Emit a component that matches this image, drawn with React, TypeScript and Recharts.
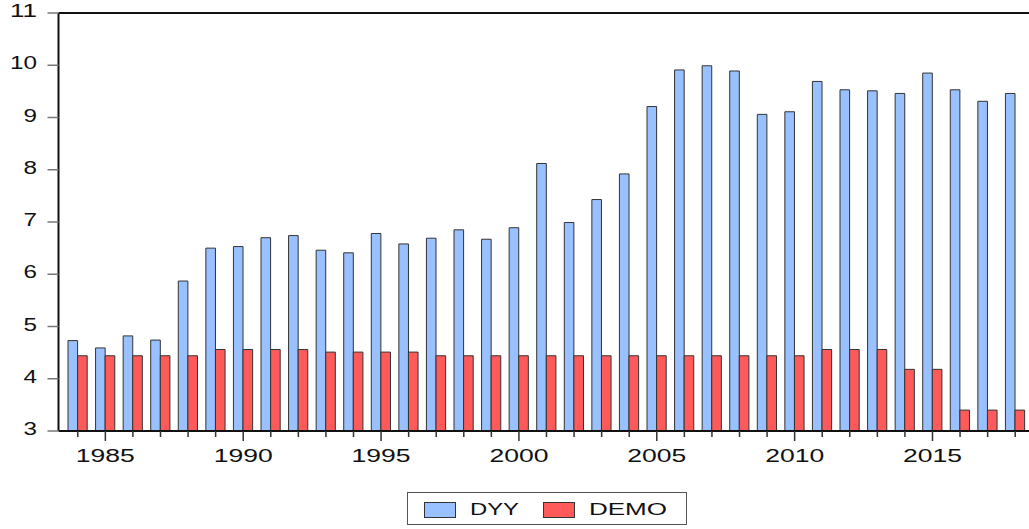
import { Bar, BarChart, Legend, ReferenceLine, XAxis, YAxis } from 'recharts';

const years = [
  1984, 1985, 1986, 1987, 1988, 1989, 1990, 1991, 1992, 1993, 1994, 1995,
  1996, 1997, 1998, 1999, 2000, 2001, 2002, 2003, 2004, 2005, 2006, 2007,
  2008, 2009, 2010, 2011, 2012, 2013, 2014, 2015, 2016, 2017, 2018,
];

const dyy = [
  4.73, 4.59, 4.82, 4.74, 5.87, 6.5, 6.53, 6.7, 6.74, 6.46, 6.41, 6.78,
  6.58, 6.69, 6.85, 6.67, 6.89, 8.12, 6.99, 7.43, 7.92, 9.21, 9.91, 9.99,
  9.89, 9.06, 9.11, 9.69, 9.53, 9.51, 9.46, 9.85, 9.53, 9.31, 9.46,
];

const demo = [
  4.44, 4.44, 4.44, 4.44, 4.44, 4.56, 4.56, 4.56, 4.56, 4.51, 4.51, 4.51,
  4.51, 4.44, 4.44, 4.44, 4.44, 4.44, 4.44, 4.44, 4.44, 4.44, 4.44, 4.44,
  4.44, 4.44, 4.44, 4.56, 4.56, 4.56, 4.18, 4.18, 3.4, 3.4, 3.4,
];

const yTicks = [3, 4, 5, 6, 7, 8, 9, 10, 11];

const BLUE = '#99c0ff';
const RED = '#ff5a5a';
const FONT = '"Liberation Sans", Arial, sans-serif';

const series = [
  { key: 'dyy', name: 'DYY', color: BLUE },
  { key: 'demo', name: 'DEMO', color: RED },
];

const data = years.map((year, i) => ({ year, dyy: dyy[i], demo: demo[i] }));

// the original is stretched sideways, so labels get a fixed textLength
function YTick(props: any) {
  const { x, y, payload } = props;
  const label = String(payload.value);
  return (
    <g>
      <line x1={x - 11} x2={x} y1={y} y2={y} stroke="#777" strokeWidth={1.5} />
      <text
        x={37}
        y={y + 4}
        textAnchor="end"
        fontSize={18}
        fontFamily={FONT}
        fill="#111"
        textLength={label.length * 13.5}
        lengthAdjust="spacingAndGlyphs"
      >
        {label}
      </text>
    </g>
  );
}

function XTick(props: any) {
  const { x, y, payload } = props;
  const major = Number(payload.value) % 5 === 0;
  return (
    <g>
      <line x1={x} x2={x} y1={y} y2={y + (major ? 10 : 6)} stroke="#333" strokeWidth={1.5} />
      {major && (
        <text
          x={x}
          y={y + 31}
          textAnchor="middle"
          fontSize={18}
          fontFamily={FONT}
          fill="#111"
          textLength={59}
          lengthAdjust="spacingAndGlyphs"
        >
          {payload.value}
        </text>
      )}
    </g>
  );
}

function LegendBox() {
  const pos = [
    { sx: 17, tx: 63, tl: 49 },
    { sx: 136, tx: 182, tl: 78 },
  ];
  return (
    <svg width={281} height={34} style={{ display: 'block' }}>
      <rect x={0.5} y={0.5} width={279} height={32} fill="#fff" stroke="#555" />
      {series.map((s, i) => (
        <g key={s.key}>
          <rect x={pos[i].sx + 0.5} y={10.5} width={31} height={15} fill={s.color} stroke="#333" />
          <text
            x={pos[i].tx}
            y={23}
            fontSize={16}
            fontFamily={FONT}
            fill="#111"
            textLength={pos[i].tl}
            lengthAdjust="spacingAndGlyphs"
          >
            {s.name}
          </text>
        </g>
      ))}
    </svg>
  );
}

export default function App() {
  return (
    <div style={{ position: 'absolute', left: 0, top: 0, width: 1029, height: 529, background: '#fff' }}>
      <BarChart
        width={1029}
        height={529}
        data={data}
        margin={{ top: 13, right: 0, left: 0, bottom: 0 }}
        barGap={0}
        barSize={9.6}
      >
        <XAxis
          dataKey="year"
          interval={0}
          height={98}
          padding={{ left: 5.5, right: 0 }}
          tickSize={0}
          tickMargin={0}
          tick={<XTick />}
          axisLine={{ stroke: '#111', strokeWidth: 2 }}
          tickLine={false}
        />
        <YAxis
          domain={[3, 11]}
          ticks={yTicks}
          width={58.5}
          tickSize={0}
          tickMargin={0}
          tick={<YTick />}
          axisLine={{ stroke: '#111', strokeWidth: 2 }}
          tickLine={false}
          allowDataOverflow
        />
        <ReferenceLine y={11} stroke="#111" strokeWidth={2} />
        <Legend
          layout="horizontal"
          verticalAlign="middle"
          align="center"
          content={<LegendBox />}
          wrapperStyle={{ left: 407, top: 492, width: 281, height: 34 }}
        />
        {series.map((s) => (
          <Bar
            key={s.key}
            dataKey={s.key}
            name={s.name}
            fill={s.color}
            stroke="#333"
            strokeWidth={1}
            isAnimationActive={false}
          />
        ))}
      </BarChart>
    </div>
  );
}
